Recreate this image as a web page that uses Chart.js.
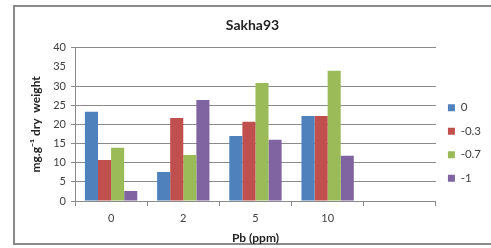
<!DOCTYPE html>
<html>
<head>
<meta charset="utf-8">
<script src="https://cdn.jsdelivr.net/npm/chart.js@4/dist/chart.umd.min.js"></script>
<style>
  html, body { margin: 0; padding: 0; background: #fff; }
  #wrap { position: relative; width: 491px; height: 248px; overflow: hidden; }
  #frame {
    position: absolute; left: 13px; top: 5px; width: 500px; height: 240px;
    border: 2px solid #8a8a8a; box-sizing: border-box;
  }
  canvas { position: absolute; left: 0; top: 0; }
</style>
</head>
<body>
<div id="wrap">
  <div id="frame"></div>
  <canvas id="chart" width="491" height="248"></canvas>
</div>
<script>
const categories = ['0', '2', '5', '10', ''];
const seriesNames = ['0', '-0.3', '-0.7', '-1'];
const seriesColors = ['#4F81BD', '#C0504D', '#9BBB59', '#8064A2'];
const s0 = [23.3, 7.6, 17.0, 22.2, null];
const s03 = [10.7, 21.7, 20.7, 22.2, null];
const s07 = [13.9, 12.0, 30.8, 34.0, null];
const s1 = [2.6, 26.4, 16.0, 11.8, null];
const yTicks = [0, 5, 10, 15, 20, 25, 30, 35, 40];

const font = "Lato, 'Open Sans', sans-serif";
const gridGray = '#8a8a8a';

// nudge the legend down to sit where the original has it
const legendOffset = {
  id: 'legendOffset',
  afterLayout(chart) {
    const l = chart.legend;
    if (!l) return;
    l.top += 19;
    l.bottom += 19;
  }
};

new Chart(document.getElementById('chart').getContext('2d'), {
  type: 'bar',
  data: {
    labels: categories,
    datasets: [s0, s03, s07, s1].map((d, i) => ({
      label: seriesNames[i],
      data: d,
      backgroundColor: seriesColors[i],
      borderWidth: 0,
      categoryPercentage: 0.725,
      barPercentage: 1
    }))
  },
  options: {
    responsive: false,
    animation: false,
    layout: { padding: { left: 14, top: 0, right: 0, bottom: 0 } },
    scales: {
      x: {
        grid: {
          offset: true,
          drawOnChartArea: false,
          drawTicks: true,
          tickLength: 5,
          color: gridGray
        },
        border: { color: gridGray, width: 1 },
        ticks: {
          color: '#404040',
          font: { family: font, size: 11 },
          padding: 6,
          maxRotation: 0
        },
        title: {
          display: true,
          text: 'Pb (ppm)',
          color: '#222',
          font: { family: font, size: 12, weight: 'bold' },
          padding: { top: 0, bottom: 3 }
        },
        afterFit: (scale) => { scale.height = 47; }
      },
      y: {
        min: 0,
        max: 40,
        afterBuildTicks: (scale) => { scale.ticks = yTicks.map(v => ({ value: v })); },
        grid: {
          color: (ctx) => ctx.tick && ctx.tick.value === 35 ? 'rgba(0,0,0,0)' : gridGray,
          tickLength: 4,
          lineWidth: 1
        },
        border: { color: gridGray, width: 1 },
        ticks: {
          color: '#404040',
          font: { family: font, size: 11 },
          padding: 5
        },
        title: {
          display: true,
          text: 'mg.g\u207B\u00B9 dry  weight',
          color: '#222',
          font: { family: font, size: 12, weight: 'bold' },
          padding: { top: 15, bottom: 0 }
        },
        afterFit: (scale) => { scale.width = 61; }
      }
    },
    plugins: {
      title: {
        display: true,
        text: 'Sakha93',
        color: '#222',
        font: { family: font, size: 14, weight: 'bold' },
        padding: { top: 17, bottom: 14 }
      },
      legend: {
        position: 'right',
        align: 'center',
        labels: {
          boxWidth: 7,
          boxHeight: 7,
          padding: 12,
          color: '#404040',
          font: { family: font, size: 11.5 }
        }
      },
      tooltip: { enabled: false }
    }
  },
  plugins: [legendOffset]
});
</script>
</body>
</html>
